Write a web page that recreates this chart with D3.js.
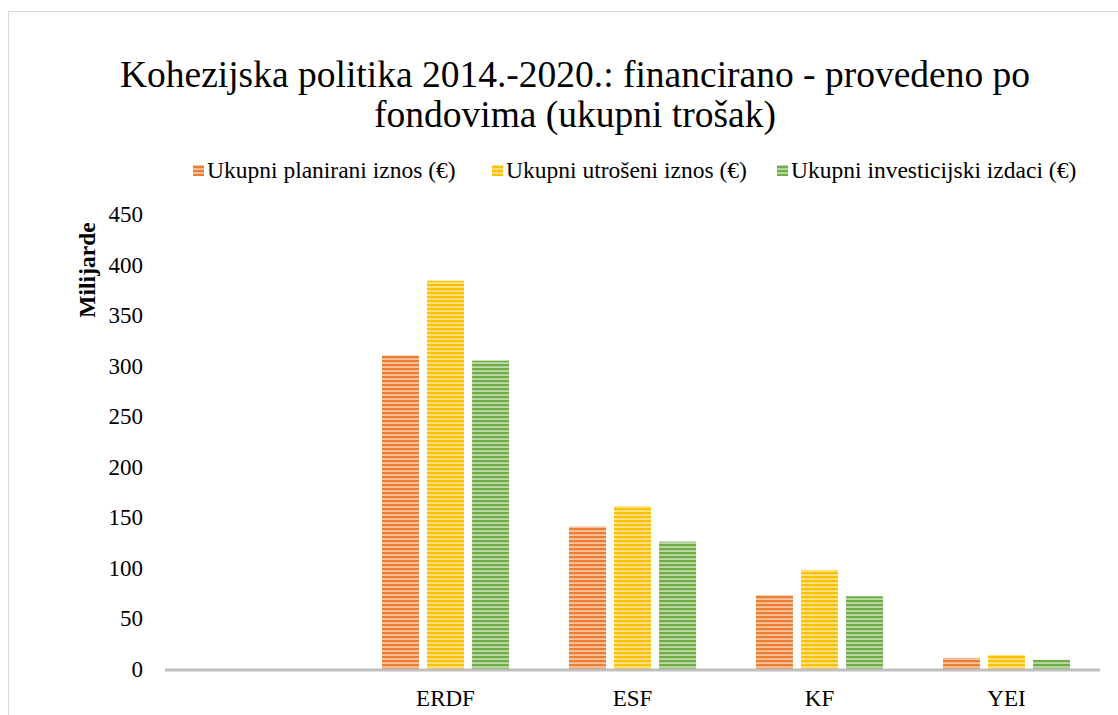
<!DOCTYPE html>
<html>
<head>
<meta charset="utf-8">
<script src="https://cdn.jsdelivr.net/npm/d3@7"></script>
<style>
  body { margin: 0; background: #fff; }
  svg text { font-family: "Liberation Serif", "DejaVu Serif", serif; fill: #000; }
</style>
</head>
<body>
<div id="chart"></div>
<script>
// chart values (billions of euro)
var categories = ["", "ERDF", "ESF", "KF", "YEI"];
var seriesNames = ["Ukupni planirani iznos (€)", "Ukupni utrošeni iznos (€)", "Ukupni investicijski izdaci (€)"];
var planned = [null, 310, 141, 73, 11];
var spent = [null, 384, 161, 98, 14];
var invest = [null, 305, 126, 72, 9];
var yTicks = [0, 50, 100, 150, 200, 250, 300, 350, 400, 450];

var colors = ["#ED7D31", "#FFC000", "#70AD47"];
var lightColors = ["#F7C3A0", "#FFE38A", "#BEDAAB"];

var width = 1118, height = 715;
var plot = {left: 165, right: 1100, top: 214, bottom: 669};

var svg = d3.select("#chart").append("svg")
    .attr("width", width)
    .attr("height", height)
    .attr("font-family", "Liberation Serif, DejaVu Serif, serif");

// chart border
svg.append("rect")
    .attr("x", 8.5).attr("y", 11.5)
    .attr("width", 1130).attr("height", 720)
    .attr("fill", "none")
    .attr("stroke", "#d9d9d9");

// stripe patterns
var defs = svg.append("defs");
colors.forEach(function (c, i) {
    var p = defs.append("pattern")
        .attr("id", "stripe" + i)
        .attr("patternUnits", "userSpaceOnUse")
        .attr("width", 8).attr("height", 4);
    p.append("rect").attr("width", 8).attr("height", 4).attr("fill", lightColors[i]);
    p.append("rect").attr("width", 8).attr("height", 2.2).attr("fill", c);
});

var x0 = d3.scaleBand().domain(categories.map(function (d, i) { return i; }))
    .range([plot.left, plot.right]);
var x1 = d3.scaleBand().domain([0, 1, 2])
    .range([30, 157])
    .paddingInner(0.18);
var y = d3.scaleLinear().domain([0, 450]).range([plot.bottom, plot.top]);

// title
var title = svg.append("text")
    .attr("text-anchor", "middle")
    .style("font-size", "37.5px");
title.append("tspan").attr("x", 575).attr("y", 87)
    .text("Kohezijska politika 2014.-2020.: financirano - provedeno po");
title.append("tspan").attr("x", 575).attr("y", 127)
    .text("fondovima (ukupni trošak)");

// legend
var legendX = [193, 492, 777];
var legend = svg.selectAll(".legend")
    .data(seriesNames)
    .enter().append("g")
    .attr("class", "legend")
    .attr("transform", function (d, i) { return "translate(" + legendX[i] + ",170)"; });
legend.append("rect")
    .attr("x", 0).attr("y", -5)
    .attr("width", 11).attr("height", 11)
    .attr("fill", function (d, i) { return "url(#stripe" + i + ")"; });
legend.append("text")
    .attr("x", 14).attr("y", 8)
    .style("font-size", "23.5px")
    .text(function (d) { return d; });

// y axis labels
svg.selectAll(".ytick")
    .data(yTicks)
    .enter().append("text")
    .attr("class", "ytick")
    .attr("x", 143)
    .attr("y", function (d) { return y(d) + 8; })
    .attr("text-anchor", "end")
    .style("font-size", "23px")
    .text(function (d) { return d; });

svg.append("text")
    .attr("transform", "translate(95,270) rotate(-90)")
    .attr("text-anchor", "middle")
    .style("font-size", "23.5px")
    .style("font-weight", "bold")
    .text("Milijarde");

// bars
var allSeries = [planned, spent, invest];
var groups = svg.selectAll(".group")
    .data(categories)
    .enter().append("g")
    .attr("class", "group")
    .attr("transform", function (d, i) { return "translate(" + x0(i) + ",0)"; });

groups.selectAll("rect")
    .data(function (d, i) {
        return allSeries.map(function (s, k) { return {k: k, v: s[i]}; })
            .filter(function (e) { return e.v != null; });
    })
    .enter().append("rect")
    .attr("x", function (d) { return x1(d.k); })
    .attr("y", function (d) { return y(d.v); })
    .attr("width", x1.bandwidth())
    .attr("height", function (d) { return y(0) - y(d.v); })
    .attr("fill", function (d) { return "url(#stripe" + d.k + ")"; });

// x axis line
svg.append("line")
    .attr("x1", plot.left).attr("x2", plot.right)
    .attr("y1", y(0) + 1).attr("y2", y(0) + 1)
    .attr("stroke", "#bfbfbf")
    .attr("stroke-width", 3);

// category labels
svg.selectAll(".xlab")
    .data(categories)
    .enter().append("text")
    .attr("class", "xlab")
    .attr("x", function (d, i) { return x0(i) + x0.bandwidth() / 2; })
    .attr("y", 706)
    .attr("text-anchor", "middle")
    .style("font-size", "23px")
    .text(function (d) { return d; });
</script>
</body>
</html>
